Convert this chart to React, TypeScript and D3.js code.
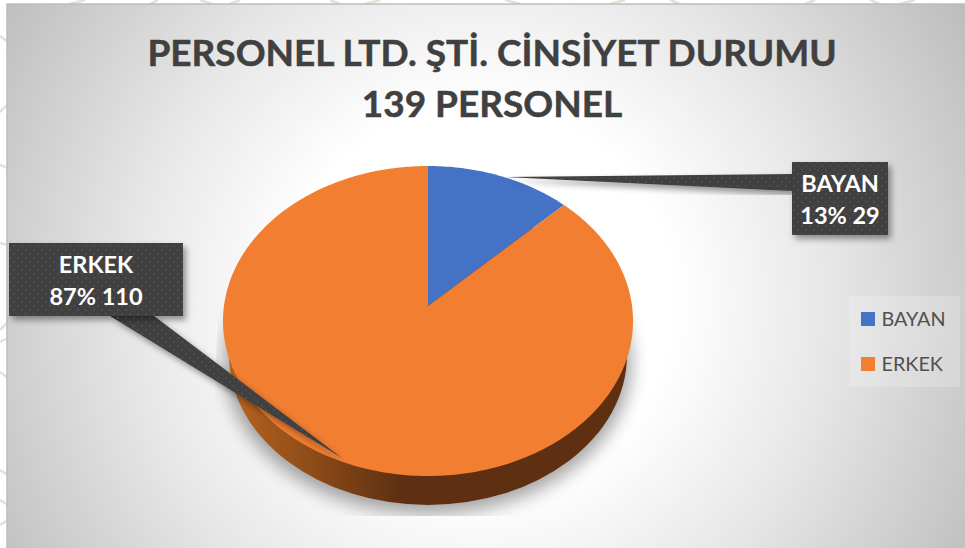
import React from "react";
import * as d3 from "d3";

const titleLines = ["PERSONEL LTD. ŞTİ. CİNSİYET DURUMU", "139 PERSONEL"];
const categories = ["BAYAN", "ERKEK"];
const shares = [12.6, 87.4];
const calloutLabels = ["13% 29", "87% 110"];
const colors = ["#4472C4", "#F27E31"];
const font = "Lato, 'Noto Sans', sans-serif";

const W = 965, H = 548;
const cx = 428, top = 166, bottom = 476, apexY = 306, rx = 205;
const depth = 29;

// perspective projection of the unit circle: apex is off the ellipse's centre
const k = ((top + bottom) - 2 * apexY) / (bottom - top);
const a = (top * (1 + k) - apexY);
const cxScale = d3.scaleLinear().domain([-1, 1]).range([cx - rx * Math.sqrt(1 - k * k), cx + rx * Math.sqrt(1 - k * k)]);
const project = (u: number, v: number): [number, number] => {
  const w = 1 + k * v;
  return [cxScale(u / w), (a * v + apexY) / w];
};
const arcs = d3.pie<number>().sort(null)(shares);
const slicePath = (s: number, e: number) => {
  const n = Math.max(4, Math.ceil((e - s) * 60));
  const pts: [number, number][] = [project(0, 0)];
  d3.range(n + 1).forEach((i) => {
    const t = s + ((e - s) * i) / n;
    pts.push(project(Math.sin(t), Math.cos(t)));
  });
  return d3.line()(pts) + "Z";
};

const Callout = ({ x, y, w, h, tail, lines }: { x: number; y: number; w: number; h: number; tail: string; lines: string[] }) => (
  <g>
    <path d={tail} fill="#3f3f3f" filter="url(#cs)" />
    <rect x={x} y={y} width={w} height={h} fill="#3f3f3f" filter="url(#cs)" />
    <rect x={x} y={y} width={w} height={h} fill="url(#dots)" />
    <path d={tail} fill="url(#dots)" />
    {lines.map((l, i) => (
      <text key={i} x={x + w / 2} y={y + 29.5 + i * 32} textAnchor="middle" fontSize={23.5} fontWeight={700} fill="#fff"
        fontFamily={font}>{l}</text>
    ))}
  </g>
);

const decor = [
  "M0,36 L8,42", "M0,112 L8,104 M0,165 L8,168", "M0,243 L8,245", "M0,330 L8,322 M0,342 L8,338",
  "M0,372 L8,378", "M0,470 L8,475 M0,500 L8,505 M0,525 L8,520",
  "M70,4 L85,0", "M150,4 L158,0", "M212,4 L200,0 M230,4 L240,0", "M340,4 L330,0 M365,4 L380,0",
  "M520,4 L505,0", "M610,4 L625,0 M680,4 L670,0", "M805,4 L815,0 M880,4 L870,0", "M900,4 L915,0",
];

export default function App() {
  return (
    <svg width={W} height={H} style={{ position: "absolute", left: 0, top: 0 }}>
      <defs>
        <radialGradient id="bg" gradientUnits="userSpaceOnUse" cx={480} cy={300} r={570}>
          <stop offset="0" stopColor="#ffffff" />
          <stop offset="0.34" stopColor="#ffffff" />
          <stop offset="0.6" stopColor="#e8e8e8" />
          <stop offset="1" stopColor="#bcbcbc" />
        </radialGradient>
        <linearGradient id="side" gradientUnits="userSpaceOnUse" x1={235} x2={400} y1={0} y2={0}>
          <stop offset="0" stopColor="#b5621f" />
          <stop offset="0.5" stopColor="#8a4a18" />
          <stop offset="1" stopColor="#5e3011" />
        </linearGradient>
        <filter id="blur" x="-20%" y="-20%" width="140%" height="140%"><feGaussianBlur stdDeviation="9" /></filter>
        <filter id="cs" x="-20%" y="-20%" width="140%" height="140%">
          <feDropShadow dx="3" dy="4" stdDeviation="3" floodColor="#000" floodOpacity="0.4" />
        </filter>
        <pattern id="dots" width="8" height="8" patternUnits="userSpaceOnUse">
          <circle cx="2" cy="2" r="1" fill="#5f5f5f" opacity="0.55" />
          <circle cx="6" cy="6" r="1" fill="#5f5f5f" opacity="0.55" />
        </pattern>
        <clipPath id="plotClip"><polygon points="218,300 648,300 648,516 211,516" /></clipPath>
      </defs>
      <rect width={W} height={H} fill="#ffffff" />
      <path d={decor.join(" ")} fill="none" stroke="#e4e2d4" strokeWidth={2.5} />
      <rect x={7} y={4} width={W} height={H} fill="url(#bg)" stroke="#bdbdbd" strokeWidth={1.5} />
      {titleLines.map((t, i) => (
        <text key={t} x={492} y={65.5 + i * 51.5} textAnchor="middle" fontSize={37} fontWeight={700} fill="#404040"
          stroke="#404040" strokeWidth={0.5} fontFamily={font}>{t}</text>
      ))}
      <g clipPath="url(#plotClip)">
        <ellipse cx={cx} cy={362} rx={203} ry={152} fill="#000" opacity={0.36} filter="url(#blur)" />
      </g>
      <ellipse cx={cx} cy={bottom + depth - 150} rx={rx - 6} ry={150} fill="url(#side)" />
      {arcs.map((d, i) => (
        <path key={i} d={slicePath(d.startAngle, d.endAngle)} fill={colors[i]} />
      ))}
      <Callout x={792} y={162} w={96} h={73} lines={[categories[0], calloutLabels[0]]}
        tail="M792,174 L792,191 L505,177 Z" />
      <Callout x={9} y={243} w={174} h={73} lines={[categories[1], calloutLabels[1]]}
        tail="M110,316 L154,316 L342,458 Z" />
      <rect x={849} y={296} width={111} height={91} fill="#ffffff" opacity={0.2} />
      {categories.map((c, i) => (
        <g key={c}>
          <rect x={861} y={312 + i * 45} width={14} height={14} fill={colors[i]} />
          <text x={881.5} y={326 + i * 45} fontSize={19.8} fill="#505050" fontFamily={font}>{c}</text>
        </g>
      ))}
    </svg>
  );
}
